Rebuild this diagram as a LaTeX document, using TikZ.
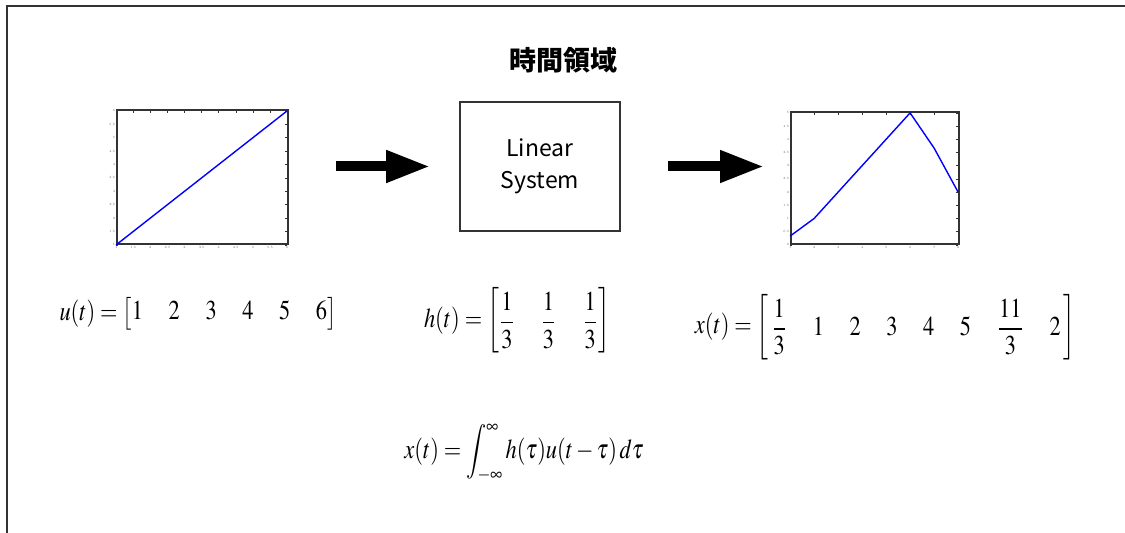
\documentclass[tikz,border=0pt]{standalone}
\usepackage{amsmath}
\usepackage{mathptmx}
\usepackage[no-math]{fontspec}
\newfontfamily\cjk{Noto Sans CJK JP}
\usepackage{tikz}
\usetikzlibrary{arrows.meta,positioning,calc}
\definecolor{plotBlue}{HTML}{0000FF}
\definecolor{frameGray}{HTML}{333333}
\setlength{\arraycolsep}{6.4pt}
\newcommand{\tallmath}[1]{\scalebox{1}[1.22]{$\displaystyle #1$}}

\tikzset{
  plotbox/.style={draw=frameGray, line width=0.9pt, inner sep=0pt},
  sysbox/.style={draw=frameGray, line width=0.8pt, minimum width=80pt, minimum height=64.5pt,
    align=center, font=\cjk\fontsize{11.5}{16}\selectfont},
  bigarrow/.style={line width=5pt, -{Triangle[width=15pt,length=22pt]}},
  eq/.style={inner sep=0pt, font=\fontsize{11.2}{13}\selectfont},
  ticklbl/.style={inner sep=0.3pt, font=\fontsize{1.6}{1.6}\selectfont, text=black!60},
  tickmark/.style={frameGray, line width=0.3pt},
  dataline/.style={plotBlue, line width=0.7pt, line join=round}
}

\begin{document}
\begin{tikzpicture}[x=0.5pt, y=-0.5pt]
    \useasboundingbox (0,0) rectangle (1125,533);
    \clip (0,0) rectangle (1125,533);
    \draw[frameGray, line width=1pt] (7,6) rectangle (1140,545);

    \node[font=\cjk\bfseries\fontsize{13.5}{16}\selectfont] (title) at (563,60) {時間領域};

    % input u(t)
    \node[plotbox, minimum width=85.5pt, minimum height=67pt] (uplot) at (202.5,177) {};
    \begin{scope}[shift={(uplot.south west)}, x=17.1pt, y=13.4pt]
      \foreach \t [count=\k from 0] in {1,1.5,2,2.5,3,3.5,4,4.5,5,5.5,6} {
        \draw[tickmark] (\k*0.5,0) -- ++(0pt,1pt) (\k*0.5,5) -- ++(0pt,-1pt);
        \draw[tickmark] (0,\k*0.5) -- ++(1pt,0pt) (5,\k*0.5) -- ++(-1pt,0pt);
        \node[ticklbl, below] at (\k*0.5,0) {\t};
        \node[ticklbl, left] at (0,\k*0.5) {\t};
      }
      \draw[dataline] (0,0) -- (5,5);
    \end{scope}

    \node[sysbox] (sys) at (540,166.5) {Linear\\System};

    % output x(t)
    \node[plotbox, minimum width=84pt, minimum height=66pt] (xplot) at (875,178) {};
    \begin{scope}[shift={(xplot.south west)}, x=12pt, y=13.2pt]
      \foreach \t [count=\k from 0] in {1,2,3,4,5,6,7,8} {
        \draw[tickmark] (\k,0) -- ++(0pt,1pt) (\k,5) -- ++(0pt,-1pt);
        \node[ticklbl, below] at (\k,0) {\t};
      }
      \foreach \t [count=\k from 0] in {0,0.5,1,1.5,2,2.5,3,3.5,4,4.5,5} {
        \draw[tickmark] (0,\k*0.5) -- ++(1pt,0pt) (7,\k*0.5) -- ++(-1pt,0pt);
        \node[ticklbl, left] at (0,\k*0.5) {\t};
      }
      \draw[dataline] (0,1/3) -- (1,1) -- (2,2) -- (3,3) -- (4,4) -- (5,5) -- (6,11/3) -- (7,2);
    \end{scope}

    \draw[bigarrow, shorten <=23.5pt, shorten >=14.5pt] (uplot.east |- sys.west) -- (sys.west);
    \draw[bigarrow, shorten <=23.5pt, shorten >=13pt] (sys.east) -- (xplot.west |- sys.east);

    \node[eq] (ueq) at (198,313.5) {\tallmath{u(t)=\begin{bmatrix}1&2&3&4&5&6\end{bmatrix}}};
    \node[eq] (heq) at (517,320.5) {\tallmath{h(t)=\begin{bmatrix}\dfrac13&\dfrac13&\dfrac13\end{bmatrix}}};
    \node[eq] (xeq) at (885,327) {\tallmath{x(t)=\begin{bmatrix}\,\dfrac13&1&2&3&4&5&\dfrac{11}3&2\,\end{bmatrix}}};
    \node[eq] (conv) at (524,453) {\tallmath{x(t)=\int_{-\infty}^{\infty}h(\tau)u(t-\tau)\,d\tau}};
\end{tikzpicture}
\end{document}
